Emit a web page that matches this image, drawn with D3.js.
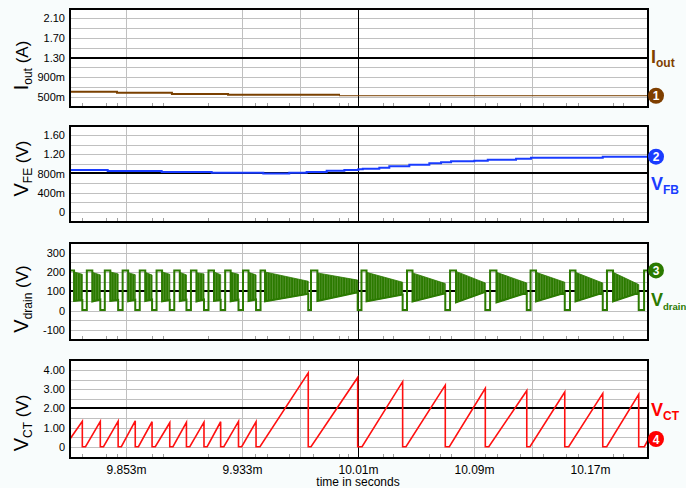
<!DOCTYPE html>
<html><head><meta charset="utf-8">
<script src="https://cdn.jsdelivr.net/npm/d3@7"></script>
<style>
html,body{margin:0;padding:0;background:#f8fcfc;}
svg{display:block;font-family:"Liberation Sans",Arial,sans-serif;}
</style></head><body>
<svg id="chart" width="686" height="488"></svg>
<script>
// ---------- data (times in ms) ----------
const xDomain = [9.8144, 10.2130];
const xTickValues = [9.853, 9.933, 10.013, 10.093, 10.173];
const xTickLabels = ["9.853m", "9.933m", "10.01m", "10.09m", "10.17m"];
const xGridValues = [9.853, 9.933, 9.973, 10.093, 10.133];
const cursorTime = 10.013;
const xMinorTicks = [9.8227, 9.8392, 9.8468, 9.8710, 9.8785, 9.9096, 9.9420, 9.9503, 9.9654, 9.9820, 9.9999,
  10.0061, 10.0303, 10.0372, 10.0620, 10.0696, 10.0772, 10.1006, 10.1089, 10.1248, 10.1406, 10.1565, 10.1648, 10.1889, 10.1958];
const xTitle = "time in seconds";

// panel 1: Iout
const p1TickValues = [0.5, 0.9, 1.3, 1.7, 2.1];
const p1TickLabels = ["500m", "900m", "1.30", "1.70", "2.10"];
const p1GridValues = [0.5, 0.7, 0.9, 1.1, 1.3, 1.5, 1.7, 1.9, 2.1];
const p1RefLevel = 1.3;
const ioutTime = [9.8144, 9.8468, 9.8847, 9.9234, 9.9999];
const ioutValue = [0.602, 0.582, 0.555, 0.541, 0.520];
const ioutTailTime = [9.9999, 10.2130];
const ioutTailValue = [0.520, 0.520];

// panel 2: VFB
const p2TickValues = [0, 0.4, 0.8, 1.2, 1.6];
const p2TickLabels = ["0", "400m", "800m", "1.20", "1.60"];
const p2GridValues = [0, 0.2, 0.4, 0.6, 0.8, 1.0, 1.2, 1.4, 1.6];
const p2RefLevel = 0.8;
const vfbTime = [9.8144, 9.8404, 9.8776, 9.9121, 9.9477, 9.9656, 9.9776, 9.9914, 10.0036, 10.0132, 10.0163,
  10.0277, 10.0346, 10.0484, 10.0622, 10.0703, 10.0772, 10.0932, 10.1025, 10.1220, 10.1323, 10.1818, 10.2130];
const vfbValue = [0.873, 0.852, 0.831, 0.817, 0.800, 0.817, 0.831, 0.858, 0.873, 0.887, 0.900,
  0.920, 0.950, 0.983, 1.012, 1.033, 1.054, 1.066, 1.087, 1.108, 1.128, 1.149, 1.149];

// panel 3: Vdrain
const p3TickValues = [-100, 0, 100, 200, 300];
const p3TickLabels = ["-100", "0", "100", "200", "300"];
const p3GridValues = [-100, -50, 0, 50, 100, 150, 200, 250, 300];
const p3RefLevel = 100;
const drainHigh = 208;
const drainLow = 3;
const drainBurstStart = [9.8172, 9.8298, 9.8422, 9.8545, 9.8663, 9.8779, 9.8901, 9.9016, 9.9137, 9.9252, 9.9375,
  9.9489, 9.9850, 10.0189, 10.0506, 10.0806, 10.1085, 10.1358, 10.1630, 10.1889];
const drainNotchStart = [9.8229, 9.8353, 9.8476, 9.8594, 9.8710, 9.8832, 9.8947, 9.9068, 9.9183, 9.9306, 9.9427,
  9.9787, 10.0128, 10.0438, 10.0732, 10.1008, 10.1294, 10.1556, 10.1818, 10.2066];
const drainNotchEnd = [9.8260, 9.8384, 9.8507, 9.8625, 9.8741, 9.8863, 9.8978, 9.9099, 9.9214, 9.9337, 9.9458,
  9.9806, 10.0154, 10.0468, 10.0765, 10.1041, 10.1320, 10.1592, 10.1847, 10.2103];
const drainUpperStart = [200, 198, 200, 196, 198, 200, 198, 196, 200, 198, 198, 200, 195, 198, 195, 203, 198, 198, 198, 198];
const drainUpperEnd = [188, 185, 190, 186, 184, 188, 185, 190, 186, 188, 185, 152, 158, 147, 140, 143, 143, 147, 143, 135];
const drainLowerStart = [50, 48, 50, 48, 50, 48, 50, 48, 50, 48, 50, 48, 50, 48, 48, 43, 43, 48, 48, 48];
const drainLowerEnd = [55, 58, 55, 56, 58, 55, 56, 58, 55, 56, 58, 87, 95, 83, 90, 97, 92, 92, 92, 92];

// panel 4: VCT
const p4TickValues = [0, 1, 2, 3, 4];
const p4TickLabels = ["0", "1.00", "2.00", "3.00", "4.00"];
const p4GridValues = [0, 0.5, 1, 1.5, 2, 2.5, 3, 3.5, 4];
const p4RefLevel = 2;
const vctTime = [9.8144,
  9.8229, 9.8229, 9.8251, 9.8353, 9.8353, 9.8375, 9.8476, 9.8476, 9.8498, 9.8594, 9.8594, 9.8616,
  9.8710, 9.8710, 9.8732, 9.8832, 9.8832, 9.8854, 9.8947, 9.8947, 9.8970, 9.9068, 9.9068, 9.9090,
  9.9183, 9.9183, 9.9205, 9.9306, 9.9306, 9.9328, 9.9427, 9.9427, 9.9454, 9.9787, 9.9787, 9.9806,
  10.0128, 10.0128, 10.0158, 10.0438, 10.0438, 10.0461, 10.0732, 10.0732, 10.0760, 10.1008, 10.1008, 10.1032,
  10.1294, 10.1294, 10.1316, 10.1556, 10.1556, 10.1583, 10.1818, 10.1818, 10.1845, 10.2066, 10.2066, 10.2105,
  10.2130];
const vctValue = [0.40,
  1.32, 0, 0, 1.32, 0, 0, 1.33, 0, 0, 1.35, 0, 0,
  1.30, 0, 0, 1.25, 0, 0, 1.27, 0, 0, 1.28, 0, 0,
  1.30, 0, 0, 1.32, 0, 0, 1.30, 0, 0, 3.85, 0, 0,
  3.61, 0, 0, 3.39, 0, 0, 3.21, 0, 0, 3.04, 0, 0,
  2.92, 0, 0, 2.85, 0, 0, 2.78, 0, 0, 2.73, 0, 0,
  0.35];

// ---------- layout ----------
const L = 70, R = 648;
const svg = d3.select("#chart");
const x = d3.scaleLinear().domain(xDomain).range([L, R]);

const panels = [
  {id: 1, top: 9, bottom: 107, domain: [0.29, 2.29], tv: p1TickValues, tl: p1TickLabels, grid: p1GridValues, ref: p1RefLevel,
   color: "#7f3f00", title: ["I", "out", " (A)"], titleY: 65.5, tag: ["I", "out"], tagY: 63, subSize: 12, badgeVal: 0.52, badge: "1"},
  {id: 2, top: 126, bottom: 222, domain: [-0.208, 1.787], tv: p2TickValues, tl: p2TickLabels, grid: p2GridValues, ref: p2RefLevel,
   color: "#1a3cff", title: ["V", "FE", " (V)"], titleY: 168.5, tag: ["V", "FB"], tagY: 190, subSize: 12, badgeVal: 1.149, badge: "2"},
  {id: 3, top: 243, bottom: 340, domain: [-152, 350], tv: p3TickValues, tl: p3TickLabels, grid: p3GridValues, ref: p3RefLevel,
   color: "#2b7a00", title: ["V", "drain", " (V)"], titleY: 299, tag: ["V", "drain"], tagY: 306, subSize: 9.5, badgeVal: 208, badge: "3"},
  {id: 4, top: 360, bottom: 458, domain: [-0.59, 4.52], tv: p4TickValues, tl: p4TickLabels, grid: p4GridValues, ref: p4RefLevel,
   color: "#ff0000", title: ["V", "CT", " (V)"], titleY: 423, tag: ["V", "CT"], tagY: 416, subSize: 12, badgeVal: 0.4, badge: "4"}
];

const defs = svg.append("defs");
const dc = "#2b7a00";
const pat = defs.append("pattern").attr("id", "osc").attr("patternUnits", "userSpaceOnUse")
  .attr("width", 2.6).attr("height", 10);
pat.append("rect").attr("width", 2.6).attr("height", 10).attr("fill", "#5f9a3a");
pat.append("rect").attr("width", 1.9).attr("height", 10).attr("fill", dc);

panels.forEach(p => {
  const y = d3.scaleLinear().domain(p.domain).range([p.bottom, p.top]);
  p.y = y;
  const g = svg.append("g");
  defs.append("clipPath").attr("id", "clip" + p.id)
    .append("rect").attr("x", L).attr("y", p.top).attr("width", R - L).attr("height", p.bottom - p.top);

  g.append("rect").attr("x", L).attr("y", p.top).attr("width", R - L).attr("height", p.bottom - p.top)
    .attr("fill", "#ffffff");

  g.selectAll(".hg").data(p.grid).enter().append("line")
    .attr("x1", L).attr("x2", R)
    .attr("y1", d => Math.round(y(d)) + 0.5).attr("y2", d => Math.round(y(d)) + 0.5)
    .attr("stroke", "#c0c0c0").attr("stroke-width", 1);
  g.selectAll(".vg").data(xGridValues).enter().append("line")
    .attr("x1", d => Math.round(x(d)) + 0.5).attr("x2", d => Math.round(x(d)) + 0.5)
    .attr("y1", p.top).attr("y2", p.bottom)
    .attr("stroke", "#c0c0c0").attr("stroke-width", 1);
  g.append("line")
    .attr("x1", Math.round(x(cursorTime)) + 0.5).attr("x2", Math.round(x(cursorTime)) + 0.5)
    .attr("y1", p.top).attr("y2", p.bottom)
    .attr("stroke", "#000").attr("stroke-width", 1);
  g.append("line").attr("x1", L).attr("x2", R)
    .attr("y1", Math.round(y(p.ref))).attr("y2", Math.round(y(p.ref)))
    .attr("stroke", "#000").attr("stroke-width", 2);

  g.selectAll(".mt").data(xMinorTicks).enter().append("line")
    .attr("x1", d => Math.round(x(d)) + 0.5).attr("x2", d => Math.round(x(d)) + 0.5)
    .attr("y1", p.bottom - 4).attr("y2", p.bottom)
    .attr("stroke", "#a0a0a0").attr("stroke-width", 1);

  p.plot = g.append("g").attr("clip-path", "url(#clip" + p.id + ")");

  const ax = d3.axisLeft(y).tickValues(p.tv).tickFormat((d, i) => p.tl[i]).tickSize(0).tickPadding(5);
  const axg = svg.append("g").attr("transform", `translate(${L},0)`).call(ax);
  axg.select(".domain").remove();
  axg.selectAll("text").attr("font-size", 11).attr("font-family", "Liberation Sans, Arial, sans-serif").attr("fill", "#000");

  const t = svg.append("text").attr("transform", `translate(28,${p.titleY}) rotate(-90)`)
    .attr("text-anchor", "middle").attr("fill", "#000");
  t.append("tspan").attr("font-size", 20).text(p.title[0]);
  t.append("tspan").attr("font-size", 12).attr("dy", 4).text(p.title[1]);
  t.append("tspan").attr("font-size", 17).attr("dy", -4).text(p.title[2]);
});

// ---------- traces ----------
const line = (ys) => d3.line().x(d => x(d[0])).y(d => ys(d[1]));

const P1 = panels[0];
P1.plot.append("path").datum(ioutTime.map((t, i) => [t, ioutValue[i]]))
  .attr("d", line(P1.y).curve(d3.curveStepAfter)).attr("fill", "none")
  .attr("stroke", "#7a4000").attr("stroke-width", 2);
P1.plot.append("path").datum(ioutTailTime.map((t, i) => [t, ioutTailValue[i]]))
  .attr("d", line(P1.y)).attr("fill", "none")
  .attr("stroke", "#7a4000").attr("stroke-width", 1);

const P2 = panels[1];
P2.plot.append("path").datum(vfbTime.map((t, i) => [t, vfbValue[i]]))
  .attr("d", line(P2.y).curve(d3.curveStepAfter)).attr("fill", "none")
  .attr("stroke", "#1a3cff").attr("stroke-width", 2);

const P3 = panels[2];
const area = d3.area().x(d => x(d.t)).y0(d => P3.y(d.lo)).y1(d => P3.y(d.hi));
drainBurstStart.forEach((bs, i) => {
  const seg = [
    {t: bs, lo: drainLowerStart[i], hi: drainUpperStart[i]},
    {t: drainNotchStart[i], lo: drainLowerEnd[i], hi: drainUpperEnd[i]}
  ];
  P3.plot.append("path").datum(seg).attr("d", area)
    .attr("fill", "url(#osc)").attr("stroke", dc).attr("stroke-width", 0.8);
});
const dpts = [[xDomain[0], drainHigh], [drainBurstStart[0], drainHigh], [drainBurstStart[0], drainLowerStart[0]]];
drainNotchStart.forEach((ns, i) => {
  dpts.push([ns, drainLowerEnd[i]], [ns, drainLow], [drainNotchEnd[i], drainLow], [drainNotchEnd[i], drainHigh]);
  if (i + 1 < drainBurstStart.length) {
    dpts.push([drainBurstStart[i + 1], drainHigh], [drainBurstStart[i + 1], drainLowerStart[i + 1]]);
  } else {
    dpts.push([xDomain[1], drainHigh]);
  }
});
P3.plot.append("path").datum(dpts).attr("d", line(P3.y)).attr("fill", "none")
  .attr("stroke", dc).attr("stroke-width", 2).attr("stroke-linejoin", "miter");

const P4 = panels[3];
P4.plot.append("path").datum(vctTime.map((t, i) => [t, vctValue[i]]))
  .attr("d", line(P4.y)).attr("fill", "none")
  .attr("stroke", "#ff1010").attr("stroke-width", 1.6);

// ---------- frames, tags, badges ----------
panels.forEach(p => {
  svg.append("rect").attr("x", L).attr("y", p.top).attr("width", R - L).attr("height", p.bottom - p.top)
    .attr("fill", "none").attr("stroke", "#000").attr("stroke-width", 2);
  const tg = svg.append("text").attr("x", 651).attr("y", p.tagY).attr("fill", p.color)
    .attr("font-weight", "bold");
  tg.append("tspan").attr("font-size", 18).text(p.tag[0]);
  tg.append("tspan").attr("font-size", p.subSize).attr("dy", 4).text(p.tag[1]);
  const by = p.y(p.badgeVal);
  svg.append("circle").attr("cx", 656).attr("cy", by).attr("r", 8).attr("fill", p.color);
  svg.append("text").attr("x", 656).attr("y", by + 4.5).attr("text-anchor", "middle")
    .attr("font-size", 12).attr("font-weight", "bold").attr("fill", "#fff").text(p.badge);
});

const xa = d3.axisBottom(x).tickValues(xTickValues).tickFormat((d, i) => xTickLabels[i]).tickSize(0).tickPadding(7);
const xg = svg.append("g").attr("transform", `translate(0,${P4.bottom})`).call(xa);
xg.select(".domain").remove();
xg.selectAll("text").attr("font-size", 12).attr("font-family", "Liberation Sans, Arial, sans-serif").attr("fill", "#000");
svg.append("text").attr("x", 358).attr("y", 486).attr("text-anchor", "middle")
  .attr("font-size", 12).attr("fill", "#000").text(xTitle);
</script>
</body></html>
